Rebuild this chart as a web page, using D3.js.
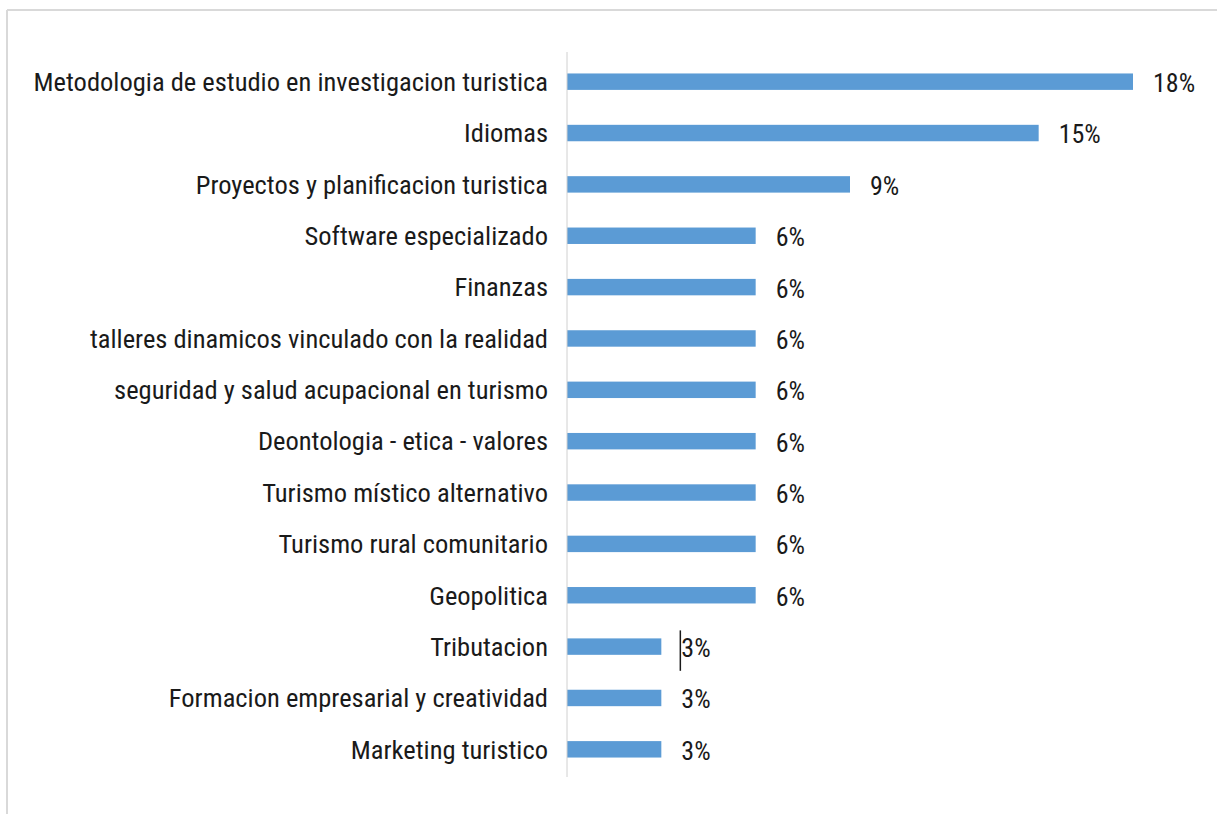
<!DOCTYPE html>
<html>
<head>
<meta charset="utf-8">
<script src="https://cdn.jsdelivr.net/npm/d3@7"></script>
<style>
  body { margin: 0; background: #fff; }
  svg text { font-family: "Liberation Sans Narrow", "Roboto Condensed", "Liberation Sans", sans-serif; }
</style>
</head>
<body>
<div id="chart"></div>
<script>
// Categories top to bottom, with their share
const categories = [
    "Metodologia de estudio en investigacion turistica",
    "Idiomas",
    "Proyectos y planificacion turistica",
    "Software especializado",
    "Finanzas",
    "talleres dinamicos vinculado con la realidad",
    "seguridad y salud acupacional en turismo",
    "Deontologia - etica - valores",
    "Turismo místico alternativo",
    "Turismo rural comunitario",
    "Geopolitica",
    "Tributacion",
    "Formacion empresarial y creatividad",
    "Marketing turistico"
];
const values = [18, 15, 9, 6, 6, 6, 6, 6, 6, 6, 6, 3, 3, 3];
const valueLabels = ["18%", "15%", "9%", "6%", "6%", "6%", "6%", "6%", "6%", "6%", "6%", "3%", "3%", "3%"];

const data = categories.map((c, i) => ({cat: c, value: values[i], label: valueLabels[i]}));

const W = 1217, H = 814;
const svg = d3.select("#chart").append("svg")
    .attr("width", W)
    .attr("height", H);

// chart frame (top and left edge visible)
svg.append("line")
    .attr("x1", 7).attr("x2", W).attr("y1", 10).attr("y2", 10)
    .attr("stroke", "#d9d9d9").attr("stroke-width", 2);
svg.append("line")
    .attr("x1", 7).attr("x2", 7).attr("y1", 10).attr("y2", H)
    .attr("stroke", "#d9d9d9").attr("stroke-width", 2);

const x0 = 567;
const x = d3.scaleLinear()
    .domain([0, 18])
    .range([x0, 1133]);

const y = d3.scaleBand()
    .domain(categories)
    .range([56, 775])
    .paddingInner(0.68)
    .paddingOuter(0.34);

// bars
svg.selectAll(".bar")
    .data(data)
    .enter()
    .append("rect")
    .attr("class", "bar")
    .attr("x", x(0))
    .attr("y", d => y(d.cat))
    .attr("width", d => x(d.value) - x(0))
    .attr("height", y.bandwidth())
    .attr("fill", "#5b9bd5");

// vertical category axis line
svg.append("line")
    .attr("x1", x0).attr("x2", x0)
    .attr("y1", y.range()[0] - 4).attr("y2", y.range()[1] + 2)
    .attr("stroke", "#d0d0d0").attr("stroke-width", 1);

// category labels
svg.selectAll(".cat")
    .data(data)
    .enter()
    .append("text")
    .attr("class", "cat")
    .attr("x", x0 - 19)
    .attr("y", d => y(d.cat) + y.bandwidth() / 2)
    .attr("dy", "0.35em")
    .attr("text-anchor", "end")
    .attr("font-size", 26.5)
    .attr("fill", "#1a1a1a")
    .text(d => d.cat);

// value labels
svg.selectAll(".val")
    .data(data)
    .enter()
    .append("text")
    .attr("class", "val")
    .attr("x", d => x(d.value) + 20)
    .attr("y", d => y(d.cat) + y.bandwidth() / 2)
    .attr("dy", "0.4em")
    .attr("font-size", 26)
    .attr("fill", "#1a1a1a")
    .text(d => d.label);

// stray text cursor beside the Tributacion label
const trib = data[11];
svg.append("line")
    .attr("x1", x(trib.value) + 19).attr("x2", x(trib.value) + 19)
    .attr("y1", y(trib.cat) - 8).attr("y2", y(trib.cat) + y.bandwidth() + 16)
    .attr("stroke", "#1a1a1a").attr("stroke-width", 1.5);
</script>
</body>
</html>
